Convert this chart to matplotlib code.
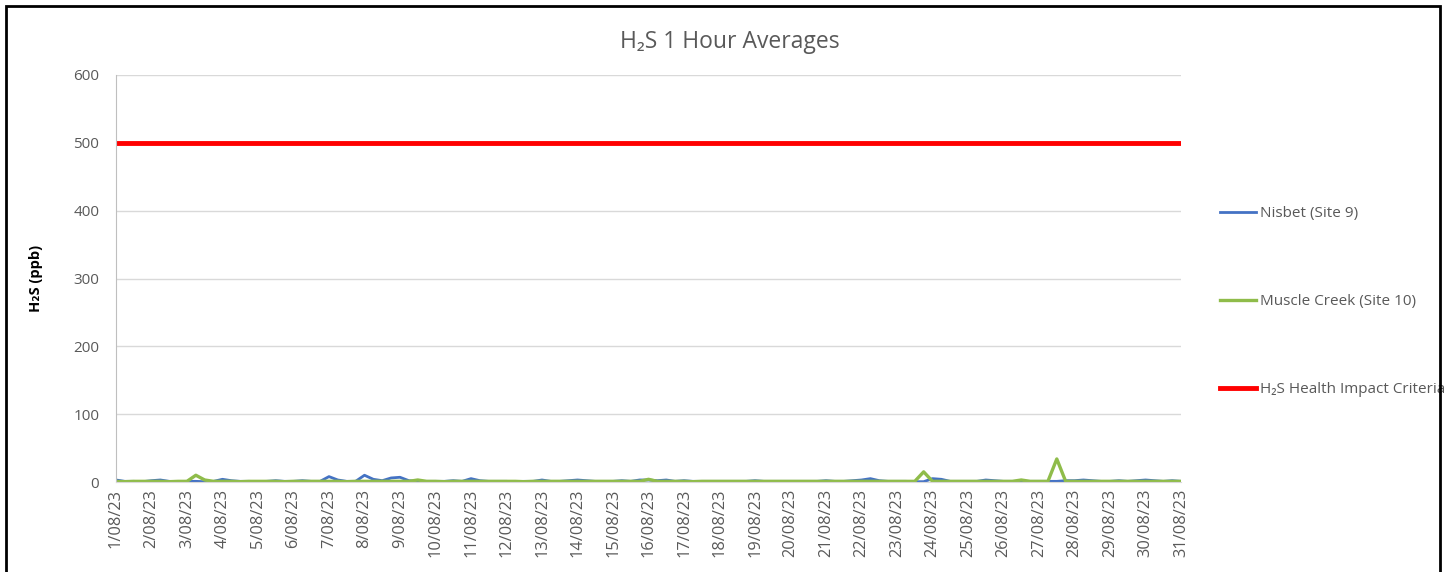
import matplotlib
matplotlib.use("Agg")
import matplotlib.pyplot as plt
from matplotlib.patches import Rectangle
import pandas as pd

# 6-hourly readings, 1/08/23 00:00 -> 31/08/23 00:00 (ppb)
nisbet = [
    3, 1, 1, 0.5,   2, 3, 1, 0.5,   1, 1, 0.5, 1,   4, 2, 1, 1,
    0.5, 1, 2, 1,   1, 2, 1, 1,     8, 3, 1, 1,     10, 4, 2, 6,
    7, 2, 1, 1,     1, 1, 2, 1,     5, 2, 1, 1,     1, 0.5, 1, 1,
    3, 1, 1, 2,     3, 2, 1, 1,     1, 2, 1, 3,     3, 2, 3, 1,
    2, 1, 1, 1,     1, 1, 1, 1,     2, 1, 1, 1,     1, 1, 1, 1,
    2, 1, 1, 2,     3, 5, 2, 1,     1, 1, 0.5, 0.5, 5, 4, 1, 1,
    1, 1, 3, 2,     1, 1, 1, 1,     1, 1, 1, 2,     2, 3, 2, 1,
    1, 2, 1, 2,     3, 2, 1, 2,     1,
]
muscle_creek = [
    1, 0.5, 1, 1,   1, 1, 0.5, 1,   1, 10, 3, 1,    1, 1, 0.5, 1,
    1, 1, 1, 0.5,   1, 1, 1, 1,     1, 1, 0.5, 1,   1, 1, 1, 1,
    1, 1, 3, 1,     1, 0.5, 1, 1,   1, 1, 1, 1,     1, 1, 0.5, 1,
    1, 1, 1, 1,     1, 1, 1, 1,     1, 1, 1, 1,     4, 1, 1, 1,
    1, 0.5, 1, 1,   1, 1, 1, 1,     1, 1, 1, 1,     1, 1, 1, 1,
    1, 1, 1, 1,     1, 1, 1, 1,     1, 1, 1, 15,    1, 1, 1, 1,
    1, 1, 1, 1,     1, 1, 3, 1,     1, 1, 34, 1,    1, 1, 1, 1,
    1, 1, 1, 1,     1, 1, 1, 1,     1,
]
criteria = 500
day_labels = [f"{d}/08/23" for d in range(1, 32)]

times = pd.date_range("2023-08-01", periods=len(nisbet), freq="6h")
days = pd.date_range("2023-08-01", periods=len(day_labels), freq="D")

plt.rcParams["font.family"] = ["Open Sans", "DejaVu Sans"]
grey = "#595959"

fig = plt.figure(figsize=(14.44, 5.72), dpi=100)
ax = fig.add_axes([0.0803, 0.1573, 0.7376, 0.7116])

ax.plot(times, nisbet, color="#4472c4", lw=2.0, label="Nisbet (Site 9)")
ax.plot(times, muscle_creek, color="#8fbc4a", lw=2.4, label="Muscle Creek (Site 10)")
ax.plot([times[0], times[-1]], [criteria, criteria], color="#ff0000", lw=3.5,
        label="H\u2082S Health Impact Criteria")

ax.set_ylim(0, 600)
ax.set_yticks(range(0, 601, 100))
ax.set_xlim(times[0], times[-1])
ax.set_xticks(days)
ax.set_xticklabels(day_labels, rotation=90, fontsize=11.8, color=grey)
ax.tick_params(axis="y", labelsize=11, colors=grey, length=0, pad=12)
ax.tick_params(axis="x", length=0, pad=5)
ax.grid(axis="y", color="#d9d9d9", lw=1)
ax.set_axisbelow(True)
for s in ["top", "right"]:
    ax.spines[s].set_visible(False)
ax.spines["left"].set_color("#bfbfbf")
ax.spines["bottom"].set_color("#d9d9d9")

fig.text(0.5055, 0.927, "H\u2082S 1 Hour Averages", fontsize=16.5, color=grey,
         ha="center", va="center")
ax.set_ylabel("H\u2082S (ppb)", fontsize=10.5, fontweight="bold", color="black", labelpad=22)

ax.legend(loc="upper left", bbox_to_anchor=(1.0235, 0.712), frameon=False,
          fontsize=11, labelcolor=grey, handlelength=2.4, handletextpad=0.2,
          labelspacing=4.78)

fig.patches.append(Rectangle((0.004, -0.01), 0.993, 0.999, transform=fig.transFigure,
                             fill=False, edgecolor="black", lw=2))

fig.savefig("out.png", dpi=100)
